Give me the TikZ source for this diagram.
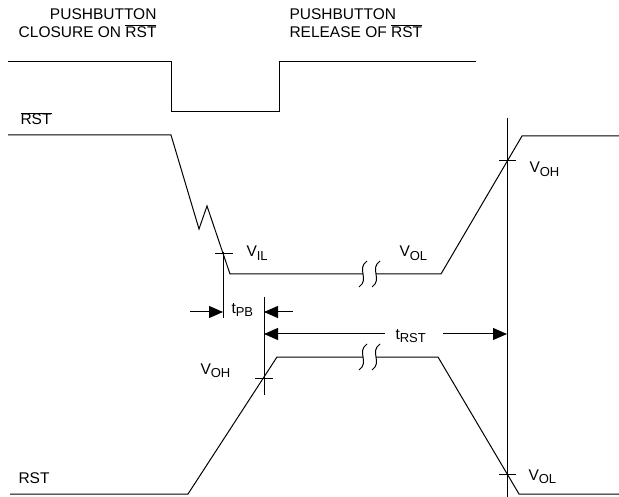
\documentclass[tikz,border=0pt]{standalone}
\usepackage{fontspec}
\setmainfont{Liberation Sans}
\usetikzlibrary{arrows.meta}
\newcommand{\rstbar}{$\overline{\hbox{RST}}$}
\newcommand{\lowsub}[1]{\raisebox{-3.5pt}{\fontsize{13}{13}\selectfont #1}}
\begin{document}
\begin{tikzpicture}[x=1pt,y=-1pt,line width=1pt,
    font=\fontsize{15.5}{18}\selectfont,
    lbl/.style={inner sep=0pt,anchor=base west},
    tip/.style={-{Triangle[length=14pt,width=12pt]}}]
  \useasboundingbox (0,0) rectangle (619,497);

  % headings
  \node[inner sep=0pt,anchor=east,align=right] (close) at (157,23) {PUSHBUTTON\\CLOSURE ON \rstbar};
  \node[inner sep=0pt,anchor=west,align=left] (release) at (289,23) {PUSHBUTTON\\RELEASE OF \rstbar};

  % pushbutton
  \draw (8,62) -- (171,62) -- (171,112) -- (279,112) -- (279,62) -- (476,62);

  % RST bar
  \node[lbl] (rstb) at (20,125) {\rstbar};
  \draw (8,135) -- (171,135) -- (199,229) -- (207,206) -- (230,274) -- (363,274);
  \draw (376,274) -- (441,274) -- (522,136) -- (619,136);

  % RST
  \node[lbl] (rst) at (18,483) {RST};
  \draw (10,494) -- (188,494) -- (277,357) -- (363,357);
  \draw (376,357) -- (438,357) -- (519,494) -- (619,494);

  % breaks
  \foreach \cx/\cy in {363/274, 376/274, 363/357, 376/357}
    \draw (\cx+4,\cy-13) .. controls (\cx-7,\cy-5) and (\cx+7,\cy+5) .. (\cx-4,\cy+13);

  % markers
  \draw (223,252) -- (223,318);
  \draw (264,297) -- (264,395);
  \draw (507,118) -- (507,497);
  \draw (215,254) -- (233,254);
  \draw (255,378) -- (273,378);
  \draw (499,161) -- (516,161);
  \draw (499,474) -- (516,474);

  \node[lbl] (vil) at (246,257) {V\lowsub{IL}};
  \node[lbl] (volm) at (399,257) {V\lowsub{OL}};
  \node[lbl] (vohr) at (529,173) {V\lowsub{OH}};
  \node[lbl] (vohl) at (200,374) {V\lowsub{OH}};
  \node[lbl] (volr) at (528,480) {V\lowsub{OL}};

  % timing
  \coordinate (pba) at (190,312);
  \coordinate (pbb) at (223,312);
  \coordinate (pbc) at (293,312);
  \coordinate (pbd) at (264,312);
  \draw[tip] (pba) -- (pbb);
  \draw[tip] (pbc) -- (pbd);
  \node[lbl] (tpb) at (231,313) {t\lowsub{PB}};

  \coordinate (rsa) at (385,334);
  \coordinate (rsb) at (264,334);
  \coordinate (rsc) at (443,334);
  \coordinate (rsd) at (507,334);
  \draw[tip] (rsa) -- (rsb);
  \draw[tip] (rsc) -- (rsd);
  \node[lbl] (trst) at (395,339) {t\lowsub{RST}};
\end{tikzpicture}
\end{document}
